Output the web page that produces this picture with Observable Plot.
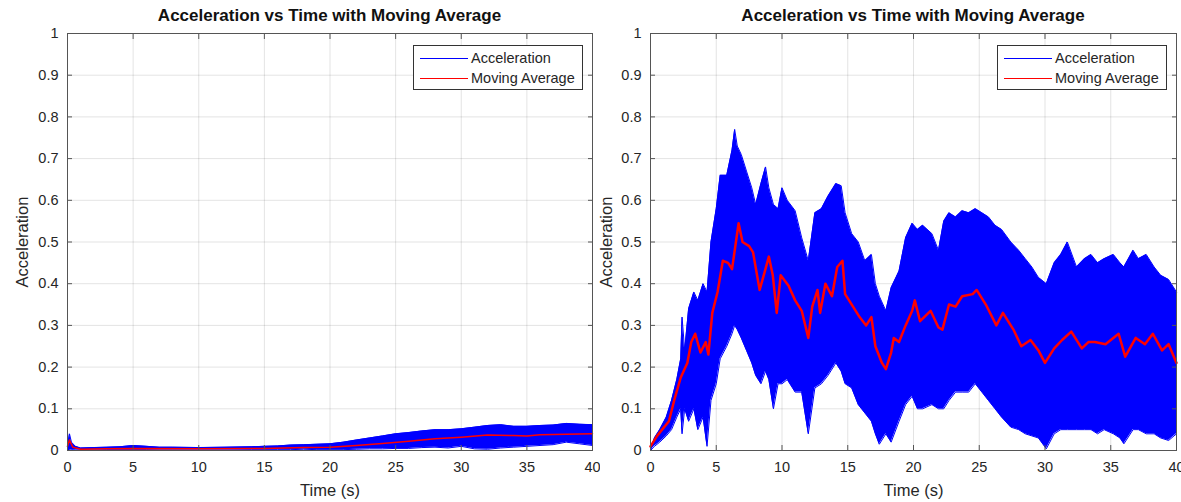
<!DOCTYPE html>
<html><head><meta charset="utf-8">
<script src="https://cdn.jsdelivr.net/npm/d3@7"></script>
<script src="https://cdn.jsdelivr.net/npm/@observablehq/plot@0.6"></script>
<style>
body{margin:0;background:#fff;font-family:"Liberation Sans",Arial,sans-serif;}
#wrap{position:relative;width:1181px;height:502px;overflow:hidden;background:#fff}
.title{position:absolute;top:6px;font-weight:bold;font-size:17px;color:#111;text-align:center;white-space:nowrap}
.panel{position:absolute;top:25px}
.legend{position:absolute;top:45px;width:170px;height:45px;border:1px solid #333;background:#fff;font-size:14.5px;color:#262626;box-sizing:border-box}
.row{position:absolute;left:0;height:18px;line-height:18px;white-space:nowrap}
.row span.l{position:absolute;left:6px;top:9px;width:48px;height:0;border-top:1.2px solid}
.row span.t{position:absolute;left:57px;top:0}
</style></head>
<body><div id="wrap"></div>
<script>
// ---------- data ----------
const titleText = "Acceleration vs Time with Moving Average";
const xLabel = "Time (s)";
const yLabel = "Acceleration";
const seriesNames = ["Acceleration", "Moving Average"];
const xTicks = [0, 5, 10, 15, 20, 25, 30, 35, 40];
const yTicks = [0, 0.1, 0.2, 0.3, 0.4, 0.5, 0.6, 0.7, 0.8, 0.9, 1];

// Left panel: envelope (min/max) of the raw acceleration, and its moving average
const leftEnvT  = [0, 0.15, 0.3, 0.6, 1, 2, 3, 4, 5, 6, 7, 8, 10, 12, 14, 15, 16, 17, 18, 19, 20, 21, 22, 23, 24, 25, 26, 27, 28, 29, 30, 31, 32, 33, 34, 35, 36, 37, 38, 39, 40];
const leftUpper = [0.01, 0.04, 0.02, 0.01, 0.006, 0.007, 0.008, 0.009, 0.012, 0.01, 0.008, 0.008, 0.007, 0.008, 0.009, 0.01, 0.011, 0.013, 0.014, 0.015, 0.016, 0.02, 0.025, 0.03, 0.035, 0.04, 0.043, 0.047, 0.05, 0.05, 0.052, 0.056, 0.06, 0.062, 0.058, 0.058, 0.06, 0.061, 0.065, 0.063, 0.062];
const leftLower = [0, 0, 0.002, 0.001, 0.001, 0.001, 0.002, 0.002, 0.002, 0.002, 0.001, 0.001, 0.001, 0.001, 0.002, 0.002, 0.002, 0.002, 0.003, 0.002, 0.002, 0.002, 0.003, 0.004, 0.004, 0.005, 0.005, 0.007, 0.008, 0.006, 0.01, 0.004, 0.003, 0.006, 0.008, 0.01, 0.012, 0.014, 0.02, 0.016, 0.012];
const leftAvgT  = [0, 0.15, 0.4, 1, 3, 5, 10, 15, 18, 20, 22, 24, 26, 28, 30, 32, 34, 35, 36, 38, 40];
const leftAvg   = [0.01, 0.025, 0.008, 0.003, 0.004, 0.005, 0.004, 0.005, 0.007, 0.008, 0.012, 0.017, 0.022, 0.028, 0.032, 0.037, 0.036, 0.035, 0.038, 0.039, 0.04];

// Right panel
const rightEnvT  = [0, 0.3, 0.7, 1.2, 1.6, 2.0, 2.3, 2.4, 2.6, 2.9, 3.3, 3.6, 4.0, 4.3, 4.6, 5.0, 5.3, 5.8, 6.2, 6.4, 6.6, 6.9, 7.3, 7.7, 8.0, 8.4, 8.75, 9.0, 9.35, 9.7, 10.0, 10.4, 11.0, 11.5, 12.0, 12.5, 13.0, 13.5, 14.1, 14.5, 14.8, 15.3, 15.8, 16.3, 16.8, 17.1, 17.4, 17.9, 18.3, 18.9, 19.4, 19.9, 20.3, 20.7, 21.4, 21.9, 22.3, 22.7, 23.2, 23.7, 24.2, 24.7, 25.2, 25.7, 26.2, 26.7, 27.4, 28.0, 28.5, 29.0, 29.5, 30.1, 30.7, 31.2, 31.7, 32.4, 33.0, 33.5, 34.0, 34.5, 35.2, 35.7, 36.0, 36.7, 37.1, 37.7, 38.3, 38.8, 39.4, 40.0];
const rightUpper = [0.0, 0.03, 0.05, 0.08, 0.12, 0.17, 0.22, 0.32, 0.24, 0.34, 0.38, 0.36, 0.40, 0.38, 0.50, 0.58, 0.66, 0.66, 0.72, 0.77, 0.73, 0.71, 0.67, 0.63, 0.59, 0.64, 0.68, 0.63, 0.59, 0.58, 0.63, 0.60, 0.575, 0.51, 0.455, 0.57, 0.58, 0.61, 0.64, 0.635, 0.57, 0.52, 0.50, 0.455, 0.47, 0.40, 0.37, 0.335, 0.39, 0.43, 0.51, 0.545, 0.53, 0.54, 0.52, 0.48, 0.55, 0.57, 0.56, 0.575, 0.57, 0.58, 0.57, 0.56, 0.54, 0.53, 0.50, 0.48, 0.46, 0.44, 0.415, 0.40, 0.45, 0.47, 0.50, 0.44, 0.46, 0.47, 0.45, 0.46, 0.47, 0.45, 0.44, 0.48, 0.46, 0.47, 0.44, 0.42, 0.41, 0.38];
const rightLower = [0.0, 0.01, 0.02, 0.035, 0.05, 0.08, 0.1, 0.04, 0.1, 0.07, 0.1, 0.05, 0.08, 0.01, 0.12, 0.16, 0.22, 0.25, 0.28, 0.30, 0.29, 0.27, 0.24, 0.21, 0.18, 0.16, 0.19, 0.17, 0.10, 0.16, 0.16, 0.17, 0.14, 0.14, 0.04, 0.15, 0.16, 0.18, 0.21, 0.19, 0.16, 0.15, 0.11, 0.09, 0.07, 0.04, 0.015, 0.04, 0.02, 0.07, 0.11, 0.13, 0.10, 0.10, 0.11, 0.10, 0.10, 0.12, 0.14, 0.14, 0.14, 0.16, 0.14, 0.12, 0.10, 0.08, 0.056, 0.05, 0.04, 0.035, 0.03, 0.004, 0.04, 0.05, 0.05, 0.05, 0.05, 0.05, 0.04, 0.05, 0.04, 0.03, 0.016, 0.05, 0.05, 0.04, 0.04, 0.03, 0.024, 0.04];
const rightAvgT  = [0, 0.5, 1.4, 1.8, 2.3, 2.8, 3.1, 3.4, 3.8, 4.2, 4.4, 4.7, 5.1, 5.5, 5.9, 6.2, 6.7, 7.0, 7.5, 7.8, 8.3, 8.7, 9.0, 9.3, 9.6, 9.9, 10.5, 11.0, 11.5, 12.0, 12.3, 12.7, 12.9, 13.3, 13.8, 14.2, 14.6, 14.8, 15.4, 15.9, 16.4, 16.8, 17.1, 17.6, 17.9, 18.3, 18.5, 18.9, 19.4, 19.9, 20.1, 20.5, 21.3, 21.9, 22.2, 22.7, 23.2, 23.7, 24.5, 24.8, 25.5, 26.3, 26.8, 27.6, 28.2, 28.9, 29.5, 30.0, 30.7, 31.3, 32.0, 32.8, 33.3, 33.8, 34.6, 35.6, 36.1, 36.9, 37.6, 38.2, 38.9, 39.4, 40];
const rightAvg   = [0.01, 0.035, 0.07, 0.12, 0.175, 0.21, 0.26, 0.28, 0.235, 0.26, 0.23, 0.33, 0.38, 0.455, 0.45, 0.435, 0.545, 0.50, 0.49, 0.475, 0.385, 0.43, 0.465, 0.42, 0.33, 0.42, 0.395, 0.36, 0.335, 0.27, 0.345, 0.385, 0.33, 0.40, 0.37, 0.44, 0.455, 0.375, 0.345, 0.32, 0.30, 0.32, 0.25, 0.21, 0.195, 0.235, 0.27, 0.26, 0.30, 0.335, 0.36, 0.31, 0.335, 0.295, 0.29, 0.35, 0.345, 0.37, 0.375, 0.385, 0.35, 0.30, 0.33, 0.29, 0.25, 0.265, 0.24, 0.21, 0.245, 0.265, 0.285, 0.245, 0.26, 0.26, 0.255, 0.28, 0.225, 0.27, 0.255, 0.28, 0.24, 0.255, 0.21];

// ---------- drawing ----------
const toEnv = (T, U, L) => T.map((t, i) => ({t, hi: U[i], lo: L[i]}));
const toAvg = (T, V) => T.map((t, i) => ({t, v: V[i]}));
const fmt = d => String(d);
const FONT = "'Liberation Sans', Arial, sans-serif";

function panel(env, avg, o) {
  return Plot.plot({
    width: o.width, height: 477,
    marginLeft: o.ml, marginRight: o.mr, marginTop: 8, marginBottom: 52,
    style: {fontFamily: FONT, fontSize: "14px", color: "#262626", background: "transparent"},
    x: {domain: [0, 40]},
    y: {domain: [0, 1]},
    marks: [
      Plot.gridX(xTicks, {stroke: "#000", strokeOpacity: 0.11}),
      Plot.gridY(yTicks, {stroke: "#000", strokeOpacity: 0.11}),
      Plot.areaY(env, {x: "t", y1: "lo", y2: "hi", fill: "#0000ff", curve: "linear"}),
      Plot.line(env, {x: "t", y: "hi", stroke: "#0000ff", strokeWidth: 1}),
      Plot.line(env, {x: "t", y: "lo", stroke: "#0000ff", strokeWidth: 1}),
      Plot.line(avg, {x: "t", y: "v", stroke: "#ff0000", strokeWidth: o.redW}),
      Plot.axisX({ticks: xTicks, tickFormat: fmt, tickSize: -5, tickPadding: 16, stroke: "#555", fontSize: 14.5, label: null}),
      Plot.axisX({ticks: [], label: xLabel, labelAnchor: "center", labelArrow: "none", labelOffset: 45, fontSize: 16.5}),
      Plot.axisY({ticks: yTicks, tickFormat: fmt, tickSize: -5, tickPadding: 14, stroke: "#555", fontSize: 14.5, label: null}),
      Plot.axisY({ticks: [], label: yLabel, labelAnchor: "center", labelArrow: "none", labelOffset: o.lo, fontSize: 16.5}),
      Plot.axisX({anchor: "top", ticks: xTicks, tickFormat: () => "", tickSize: -5, stroke: "#555", label: null}),
      Plot.axisY({anchor: "right", ticks: yTicks, tickFormat: () => "", tickSize: -5, stroke: "#555", label: null}),
      Plot.frame({stroke: "#555"})
    ]
  });
}

const wrap = document.getElementById("wrap");
function addPanel(left, o, env, avg) {
  const d = document.createElement("div");
  d.className = "panel"; d.style.left = left + "px";
  d.appendChild(panel(env, avg, o));
  wrap.appendChild(d);
  const frameL = left + o.ml, frameR = left + o.width - o.mr;
  const t = document.createElement("div");
  t.className = "title"; t.textContent = titleText;
  t.style.left = frameL + "px"; t.style.width = (frameR - frameL) + "px";
  wrap.appendChild(t);
  const lg = document.createElement("div");
  lg.className = "legend"; lg.style.left = (frameR - 179) + "px";
  const colors = ["#0000ff", "#ff0000"];
  seriesNames.forEach((n, i) => {
    const r = document.createElement("div");
    r.className = "row"; r.style.top = (3 + i * 20) + "px";
    r.innerHTML = `<span class="l" style="border-color:${colors[i]}"></span><span class="t">${n}</span>`;
    lg.appendChild(r);
  });
  wrap.appendChild(lg);
}
addPanel(0, {width: 600, ml: 67, mr: 8, lo: 51, redW: 1.5},
  toEnv(leftEnvT, leftUpper, leftLower), toAvg(leftAvgT, leftAvg));
addPanel(590, {width: 591, ml: 60, mr: 5, lo: 50, redW: 2.5},
  toEnv(rightEnvT, rightUpper, rightLower), toAvg(rightAvgT, rightAvg));
</script></body></html>
